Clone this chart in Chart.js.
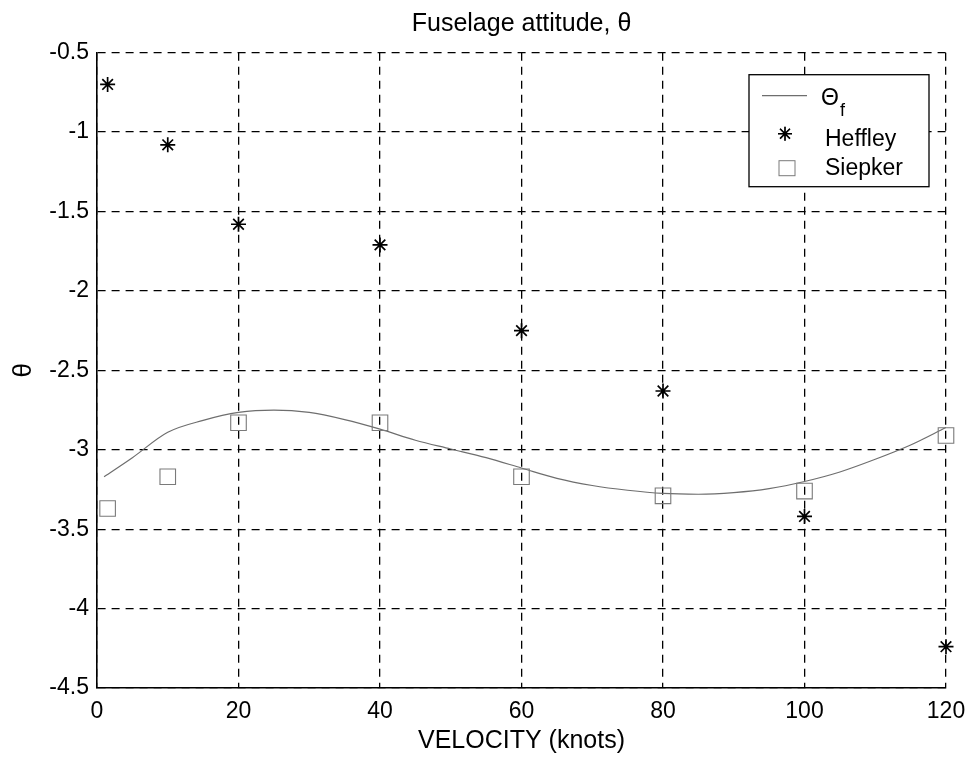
<!DOCTYPE html>
<html>
<head>
<meta charset="utf-8">
<script src="https://cdn.jsdelivr.net/npm/chart.js@4/dist/chart.umd.min.js"></script>
<style>
html,body{margin:0;padding:0;background:#fff;}
canvas{display:block;}
</style>
</head>
<body>
<canvas id="c" width="968" height="757" style="width:968px;height:757px"></canvas>
<script>
// ---- data ----
const curveVelocity = [1, 5, 10, 15, 20, 25, 30, 35, 40, 45, 50, 55, 60, 65, 70, 75, 80, 85, 90, 95, 100, 105, 110, 115, 120];
const curveTheta = [-3.17, -3.05, -2.89, -2.815, -2.765, -2.75, -2.765, -2.81, -2.87, -2.94, -2.995, -3.05, -3.115, -3.18, -3.225, -3.255, -3.275, -3.28, -3.27, -3.245, -3.20, -3.14, -3.06, -2.97, -2.86];
const pointVelocity = [1.5, 10, 20, 40, 60, 80, 100, 120];
const heffleyTheta = [-0.70, -1.08, -1.58, -1.71, -2.25, -2.63, -3.42, -4.24];
const siepkerTheta = [-3.37, -3.17, -2.83, -2.83, -3.17, -3.29, -3.26, -2.91];
const xTicks = [0, 20, 40, 60, 80, 100, 120];
const yTicks = [-0.5, -1, -1.5, -2, -2.5, -3, -3.5, -4, -4.5];
const seriesLabels = ['Θ', 'Heffley', 'Siepker'];

const FONT = '"Liberation Sans", Arial, sans-serif';
const toXY = (xs, ys) => xs.map((x, i) => ({x: x, y: ys[i]}));

const legendPlugin = {
  id: 'matlabLegend',
  afterDraw(chart) {
    const ctx = chart.ctx;
    const ca = chart.chartArea;
    const x0 = ca.right - 197, y0 = ca.top + 22, w = 180, h = 112;
    ctx.save();
    ctx.fillStyle = '#fff';
    ctx.fillRect(x0, y0, w, h);
    ctx.strokeStyle = '#000';
    ctx.lineWidth = 1.3;
    ctx.strokeRect(x0, y0, w, h);
    const ds = chart.data.datasets;
    ctx.font = '23px ' + FONT;
    ctx.fillStyle = '#000';
    ctx.textBaseline = 'middle';
    ctx.textAlign = 'left';
    // entry 1: line
    ctx.strokeStyle = ds[0].borderColor;
    ctx.lineWidth = 1.2;
    ctx.beginPath();
    ctx.moveTo(x0 + 13, y0 + 21);
    ctx.lineTo(x0 + 58, y0 + 21);
    ctx.stroke();
    ctx.fillText(ds[0].label, x0 + 72, y0 + 24);
    const tw = ctx.measureText(ds[0].label).width;
    ctx.font = '18px ' + FONT;
    ctx.fillText('f', x0 + 72 + tw + 1, y0 + 36);
    ctx.font = '23px ' + FONT;
    // entry 2: star
    Chart.helpers.drawPoint(ctx, {pointStyle: 'star', radius: 7, rotation: 0, borderWidth: 1.5}, x0 + 36, y0 + 59);
    ctx.strokeStyle = ds[1].borderColor;
    ctx.lineWidth = 1.6;
    ctx.stroke();
    ctx.fillText(ds[1].label, x0 + 76, y0 + 65);
    // entry 3: square
    ctx.strokeStyle = ds[2].borderColor;
    ctx.lineWidth = 1;
    ctx.strokeRect(x0 + 30, y0 + 86, 16, 15);
    ctx.fillStyle = '#000';
    ctx.fillText(ds[2].label, x0 + 76, y0 + 94);
    ctx.restore();
  }
};

new Chart(document.getElementById('c'), {
  type: 'scatter',
  data: {
    datasets: [
      {
        label: seriesLabels[0],
        data: toXY(curveVelocity, curveTheta),
        showLine: true,
        borderColor: '#6e6e6e',
        borderWidth: 1.2,
        pointRadius: 0,
        tension: 0.4,
        cubicInterpolationMode: 'monotone',
        clip: false,
        order: 3
      },
      {
        label: seriesLabels[1],
        data: toXY(pointVelocity, heffleyTheta),
        showLine: false,
        pointStyle: 'star',
        pointRadius: 7.5,
        borderColor: '#000',
        backgroundColor: '#000',
        pointBorderWidth: 1.7,
        clip: false,
        order: 1
      },
      {
        label: seriesLabels[2],
        data: toXY(pointVelocity, siepkerTheta),
        showLine: false,
        pointStyle: 'rect',
        pointRadius: 11,
        borderColor: '#7a7a7a',
        backgroundColor: 'rgba(0,0,0,0)',
        pointBorderWidth: 1.1,
        clip: false,
        order: 2
      }
    ]
  },
  options: {
    responsive: false,
    devicePixelRatio: 1,
    animation: false,
    layout: {padding: {left: 0, right: 22, top: 0, bottom: 0}},
    plugins: {
      legend: {display: false},
      tooltip: {enabled: false},
      title: {
        display: true,
        fullSize: false,
        text: 'Fuselage attitude, θ',
        color: '#000',
        font: {family: FONT, size: 25, weight: 'normal', lineHeight: 1},
        padding: {top: 12, bottom: 15.7}
      }
    },
    scales: {
      x: {
        type: 'linear',
        min: 0, max: 120,
        afterFit(s) { s.height = 69; s.paddingLeft = 0; s.paddingRight = 0; },
        afterBuildTicks(s) { s.ticks = xTicks.map(v => ({value: v})); },
        ticks: {color: '#000', font: {family: FONT, size: 23}, padding: 10, callback: v => String(v), maxRotation: 0},
        grid: {color: '#000', lineWidth: 1.3, drawTicks: false},
        border: {display: true, color: '#000', width: 1.6, dash: [8, 6]},
        title: {display: true, text: 'VELOCITY (knots)', color: '#000', font: {family: FONT, size: 25}, padding: {top: 0, bottom: 1}}
      },
      y: {
        type: 'linear',
        min: -4.5, max: -0.5,
        afterFit(s) { s.width = 97; s.paddingTop = 0; s.paddingBottom = 0; },
        afterBuildTicks(s) { s.ticks = yTicks.map(v => ({value: v})); },
        ticks: {color: '#000', font: {family: FONT, size: 23}, padding: 8, callback: v => String(v)},
        grid: {color: '#000', lineWidth: 1.3, drawTicks: false},
        border: {display: true, color: '#000', width: 1.6, dash: [8, 6]},
        title: {display: true, text: 'θ', color: '#000', font: {family: FONT, size: 26}, padding: {top: 8, bottom: 0}}
      }
    }
  },
  plugins: [legendPlugin]
});
</script>
</body>
</html>
